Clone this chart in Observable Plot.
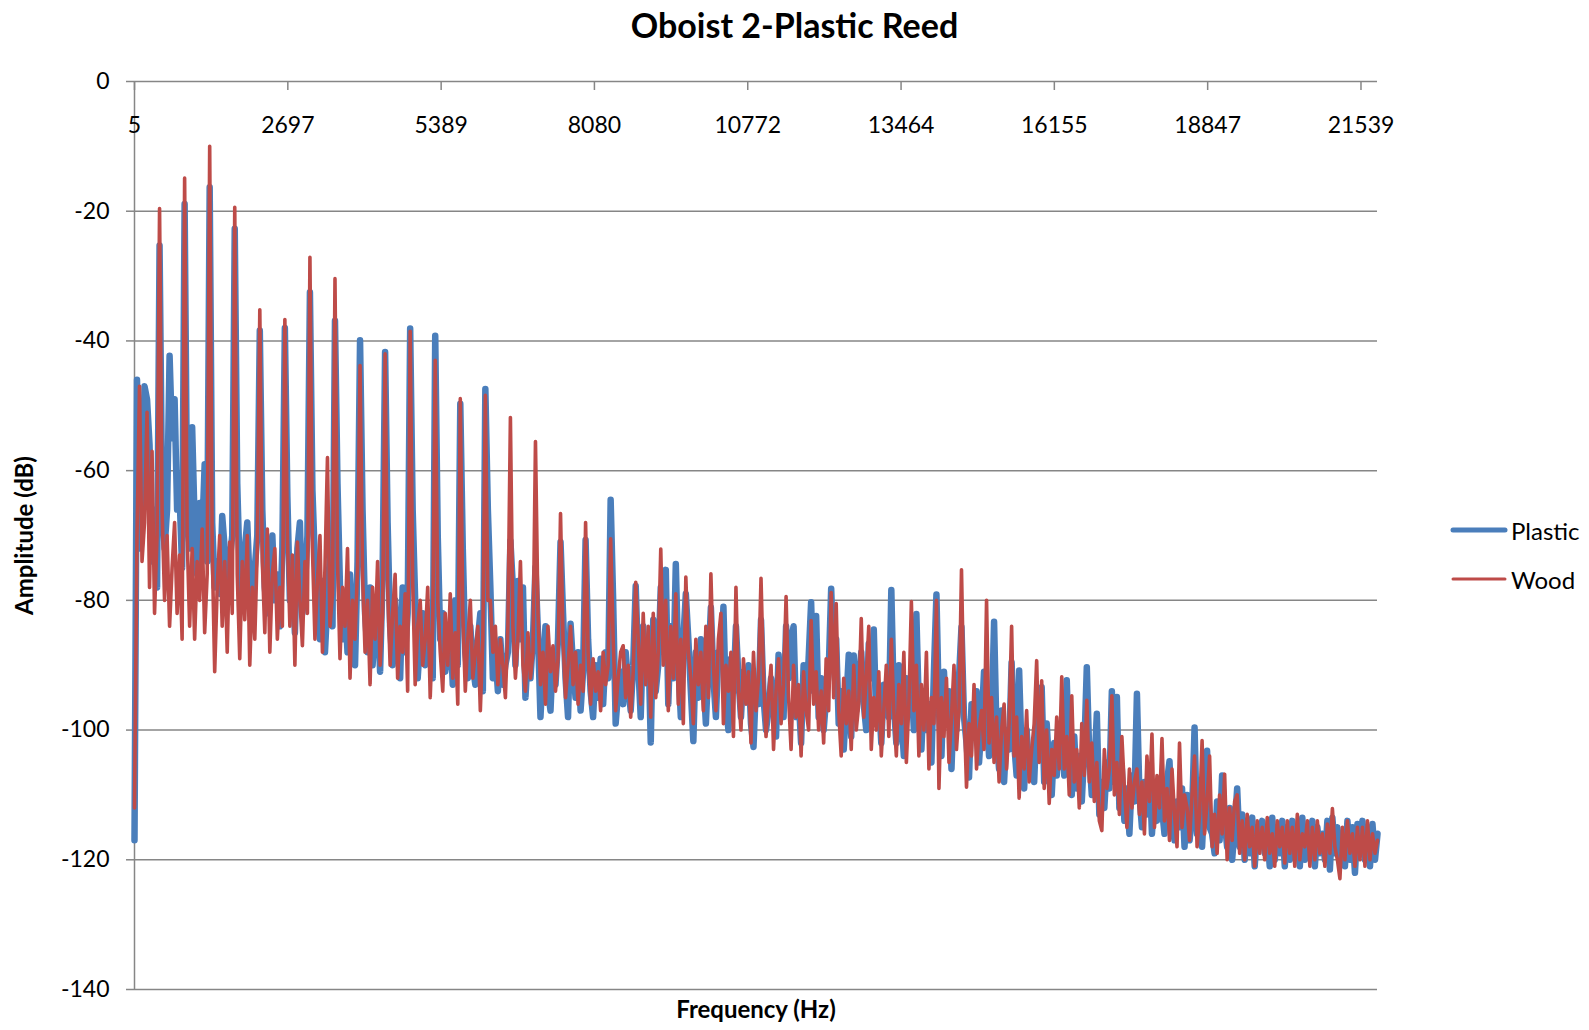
<!DOCTYPE html>
<html>
<head>
<meta charset="utf-8">
<script src="https://cdn.jsdelivr.net/npm/d3@7"></script>
<script src="https://cdn.jsdelivr.net/npm/@observablehq/plot@0.6"></script>
<style>
  body { margin: 0; background: #fff; font-family: Lato, "Open Sans", sans-serif; }
  #wrap { position: relative; width: 1589px; height: 1030px; }
  #title { height: 50px; line-height: 50px; text-align: center; font-weight: bold; font-size: 34px; color: #000; }
  #legend { position: absolute; left: 1450px; top: 515px; }
  .lg-row { display: flex; align-items: center; height: 30px; margin-bottom: 19px; font-size: 24px; color: #000; }
  .lg-row svg { margin-right: 3px; }
</style>
</head>
<body>
<div id="wrap">
  <div id="title">Oboist 2-Plastic Reed</div>
  <div id="chart"></div>
  <div id="legend"></div>
</div>
<script>
// ---- data -------------------------------------------------------------
const titleText = "Oboist 2-Plastic Reed";
const xLabel = "Frequency (Hz)";
const yLabel = "Amplitude (dB)";
const xTickLabels = [5, 2697, 5389, 8080, 10772, 13464, 16155, 18847, 21539];
const yTicks = [0, -20, -40, -60, -80, -100, -120, -140];
const seriesNames = ["Plastic", "Wood"];
const seriesColors = ["#4A7EBB", "#BE4B48"];

// spectrum sampled on bins: first bin 5 Hz, 44 Hz per bin (10 bins per 440 Hz harmonic)
const binStartHz = 5;
const binStepHz = 44;

const plasticDb = [
  -117, -46, -72, -65, -47, -49, -56, -74, -66, -78,
  -25.3, -64, -72, -66, -42.3, -55, -49, -66, -64, -75,
  -18.9, -66, -72, -53.3, -68, -76, -65, -70, -59, -74,
  -16.3, -68, -78, -74, -79, -67, -72, -80, -74, -70,
  -22.7, -62, -76, -80, -72, -68, -78, -84, -75, -70,
  -38.4, -66, -78, -82, -74, -70, -80, -76, -84, -72,
  -38.0, -64, -80, -75, -85, -72, -68, -82, -78, -70,
  -32.5, -63, -74, -82, -86, -77, -88, -80, -73, -84,
  -36.9, -62, -78, -86, -80, -88, -76, -84, -90, -74,
  -39.9, -66, -82, -88, -78, -90, -84, -80, -91, -76,
  -41.7, -68, -84, -90, -80, -86, -92, -78, -88, -82,
  -38.1, -66, -80, -92, -86, -82, -90, -88, -84, -92,
  -39.2, -70, -86, -82, -91, -88, -84, -93, -80, -90,
  -49.7, -72, -88, -92, -84, -90, -93, -86, -82, -94,
  -47.4, -66, -78, -92, -88, -94, -86, -93, -90, -88,
  -70.8, -78, -90, -77, -86, -78, -95, -88, -92, -86,
  -74.9, -85, -98, -90, -84, -94, -97, -88, -93, -86,
  -71.0, -82, -92, -98, -83.6, -90, -95, -88, -97, -91,
  -70.7, -86, -94, -98, -90, -95, -89, -96, -88, -92,
  -64.5, -80, -99, -94, -91, -96, -88, -93, -97, -90,
  -77.8, -90, -98, -84, -92, -86, -101.9, -83, -94, -90,
  -78, -88, -75.3, -96, -84, -92, -74.4, -90, -98, -86,
  -79, -86, -94, -101.7, -88, -95, -86, -92, -99, -90,
  -81.1, -92, -98, -88, -90, -81, -96, -100, -89, -94,
  -84, -92, -98, -91, -95, -90, -99, -102.6, -93, -96,
  -83, -95, -100, -97, -92, -96, -101, -88.4, -94, -98,
  -84, -92, -86, -84, -98, -95, -102, -90, -96, -89,
  -80.3, -94, -82.4, -98, -92, -100, -95, -91, -78.2, -90,
  -86, -99, -94, -103, -96, -88.4, -101, -88.5, -97, -93,
  -88, -96, -100, -86.7, -92, -84.5, -99, -95, -102, -93,
  -94, -98, -78.4, -96, -102, -90, -98, -104, -92, -97,
  -92, -100, -82.1, -97, -103, -94, -100, -96, -105, -91,
  -79.1, -97, -104, -91, -99, -94, -106, -95, -100, -92,
  -84.1, -98, -102, -107.3, -96, -101, -94, -105, -99, -91,
  -97, -104, -99, -83.3, -101, -106, -97, -108, -100, -103,
  -89.6, -102, -107, -90.8, -104, -109, -100, -106, -103, -108,
  -98, -104, -93.4, -108, -99, -106, -110, -102, -107, -100,
  -100, -107, -92.3, -105, -110, -101, -109, -104, -111, -103,
  -90.3, -104, -110, -106, -97.5, -113, -108, -112, -105, -109,
  -94, -108, -94.9, -112, -106, -114, -109, -116, -107, -111,
  -94.4, -110, -115, -108, -113, -106, -116, -110, -114, -109,
  -112, -116, -108, -104.8, -114, -117, -111, -115, -109, -118,
  -110, -117, -113, -99.6, -116, -112, -118, -110, -103.2, -115,
  -116, -119, -111, -117, -107, -114, -118, -112, -120, -115,
  -109, -118, -113, -120, -114, -119, -113.5, -121, -115, -118,
  -114, -119, -116, -121, -113.5, -120, -115, -119, -114, -121,
  -115, -120, -114, -119, -116, -121, -113.5, -120, -115, -119,
  -114, -121, -115, -119, -116, -120, -114, -121.5, -113.5, -119,
  -115, -120, -116, -121, -114, -120, -115, -122, -114.5, -119,
  -114, -120, -115, -121, -114.5, -120, -116
];

const woodDb = [
  -112, -70, -47, -74, -68, -51, -78, -57, -82, -70,
  -19.6, -66, -80, -70, -84, -75, -68, -82, -73, -86,
  -14.9, -70, -84, -72, -86, -74, -80, -69, -85, -76,
  -10.0, -72, -91, -78, -70, -84, -74, -88, -71, -82,
  -19.4, -76, -89, -74, -83, -70, -90, -78, -86, -72,
  -35.2, -74, -85, -69, -88, -76, -72, -86, -78, -84,
  -36.7, -70, -84, -73, -90, -71, -80, -87, -74, -82,
  -27.1, -72, -86, -77, -70, -88, -75, -58, -84, -79,
  -30.4, -74, -89, -78, -84, -72, -92, -80, -86, -75,
  -43.8, -76, -88, -80, -93, -78, -86, -74, -90, -82,
  -42.0, -78, -90, -82, -76, -92, -84, -88, -79, -94,
  -38.5, -77, -93, -84, -80, -90, -86, -78, -95, -84,
  -43.0, -80, -88, -94, -82, -90, -79, -92, -85, -96,
  -48.9, -82, -94, -86, -80, -92, -88, -84, -97, -86,
  -48.4, -80, -80, -88, -84, -93, -86, -90, -95, -84,
  -51.8, -84, -92, -86, -74, -90, -94, -85, -92, -88,
  -55.5, -82, -93, -88, -96, -84, -91, -87, -94, -89,
  -66.6, -86, -95, -90, -84, -93, -88, -96, -90, -94,
  -68.0, -88, -96, -89, -94, -91, -97, -88, -93, -90,
  -70.5, -86, -97, -92, -88, -87, -95, -90, -98, -91,
  -77.2, -86, -96, -82, -93, -84, -98, -82, -95, -88,
  -72.1, -90, -80, -97, -84, -92, -79, -96, -86, -99,
  -76.4, -88, -92, -99, -86, -93, -88, -97, -84, -95,
  -75.9, -90, -97, -86, -82, -99, -90, -94, -88, -101,
  -78.0, -94, -100, -89, -96, -91, -102, -88, -97, -92,
  -76.6, -92, -101, -95, -90, -103, -94, -89, -99, -93,
  -79.4, -95, -103, -90, -98, -93, -104, -91, -97, -100,
  -83.1, -96, -91, -100, -94, -102, -89, -97, -78.8, -95,
  -80.5, -97, -104, -92, -99, -94, -103, -90, -100, -96,
  -82.8, -98, -92, -84, -103, -95, -100, -91, -104, -97,
  -90, -101, -86, -97, -104, -93, -99, -88, -105, -96,
  -80.2, -97, -90, -104, -93, -100, -88, -106, -95, -99,
  -80, -109, -95, -101, -92, -105, -98, -90, -103, -97,
  -75.3, -96, -108.8, -99, -104, -93, -106, -100, -97, -103,
  -80, -102, -95, -105, -98, -108, -100, -96, -106, -99,
  -84, -104, -98, -110.5, -101, -106, -97, -108, -103, -99,
  -89.3, -105, -92.4, -109, -100, -111.3, -103, -107, -98, -106,
  -91.8, -106, -101, -110, -94.7, -108, -103, -112, -99, -107,
  -95.4, -108, -102, -111, -105, -114, -115.5, -103, -109, -106,
  -94.7, -110, -105, -113, -101, -109, -115, -106, -112, -108,
  -106, -113, -108, -116, -104, -111, -100.6, -115, -107, -112,
  -101.3, -114, -109, -117, -106, -113, -118, -102, -115, -110,
  -112, -117, -110, -104, -118, -113, -101.6, -116, -111, -104,
  -118, -113, -119, -110, -116, -106.8, -120, -112, -117, -111,
  -110, -119, -114, -120, -113, -118, -115, -121, -114, -119,
  -115, -120, -113.5, -119, -116, -121, -114, -118, -115, -120.5,
  -114, -119, -115, -121, -113, -120, -116, -118, -114, -121,
  -115, -120, -114, -119, -116, -121, -114.5, -119, -112.1, -118,
  -120, -122.9, -115, -120, -114, -119, -116, -121, -115, -120,
  -115, -121, -114, -120, -116, -119, -117
];

// ---- build -------------------------------------------------------------
const toRows = (arr) => arr.map((db, i) => ({ f: binStartHz + i * binStepHz, db }));
const plasticRows = toRows(plasticDb);
const woodRows = toRows(woodDb);
const xMax = d3.max(plasticRows, d => d.f);
const grid = "#868686";

const chart = Plot.plot({
  width: 1589,
  height: 980,
  marginTop: 31,
  marginBottom: 41,
  marginLeft: 134,
  marginRight: 212,
  style: { fontFamily: "Lato, 'Open Sans', sans-serif", fontSize: "23px", color: "#000", background: "#fff" },
  x: { domain: [binStartHz, xMax], axis: null },
  y: { domain: [-140, 0], axis: null },
  marks: [
    Plot.gridY(yTicks, { stroke: grid, strokeOpacity: 1, strokeWidth: 1.5 }),
    Plot.axisY({ ticks: yTicks, tickSize: 8, tickPadding: 17, tickFormat: d => String(d), label: null, stroke: grid, strokeWidth: 1.5, fontSize: 23 }),
    Plot.axisX({ anchor: "top", ticks: xTickLabels, tickSize: 8, dy: 8, tickFormat: () => "", label: null, stroke: grid, strokeWidth: 1.5 }),
    Plot.ruleX([binStartHz], { stroke: grid, strokeWidth: 1.5 }),
    Plot.text(xTickLabels, { x: d => d, frameAnchor: "top", dy: 35, text: d => String(d), fontSize: 23 }),
    Plot.line(plasticRows, { x: "f", y: "db", stroke: seriesColors[0], strokeWidth: 6.5, strokeLinejoin: "round", strokeLinecap: "round" }),
    Plot.line(woodRows, { x: "f", y: "db", stroke: seriesColors[1], strokeWidth: 3.6, strokeLinejoin: "round", strokeLinecap: "round" }),
    Plot.text([yLabel], { frameAnchor: "left", dx: -109, rotate: -90, textAnchor: "middle", lineAnchor: "middle", fontWeight: "bold", fontSize: 24 }),
    Plot.text([xLabel], { frameAnchor: "bottom", dy: 21, textAnchor: "middle", lineAnchor: "middle", fontWeight: "bold", fontSize: 24 })
  ]
});
document.getElementById("chart").appendChild(chart);
document.getElementById("title").textContent = titleText;

const legend = document.getElementById("legend");
seriesNames.forEach((name, i) => {
  const row = document.createElement("div");
  row.className = "lg-row";
  const sw = i === 0 ? 5 : 3;
  row.innerHTML = `<svg width="58" height="12"><line x1="3" y1="6" x2="55" y2="6" stroke="${seriesColors[i]}" stroke-width="${sw}" stroke-linecap="round"/></svg><span>${name}</span>`;
  legend.appendChild(row);
});
</script>
</body>
</html>
